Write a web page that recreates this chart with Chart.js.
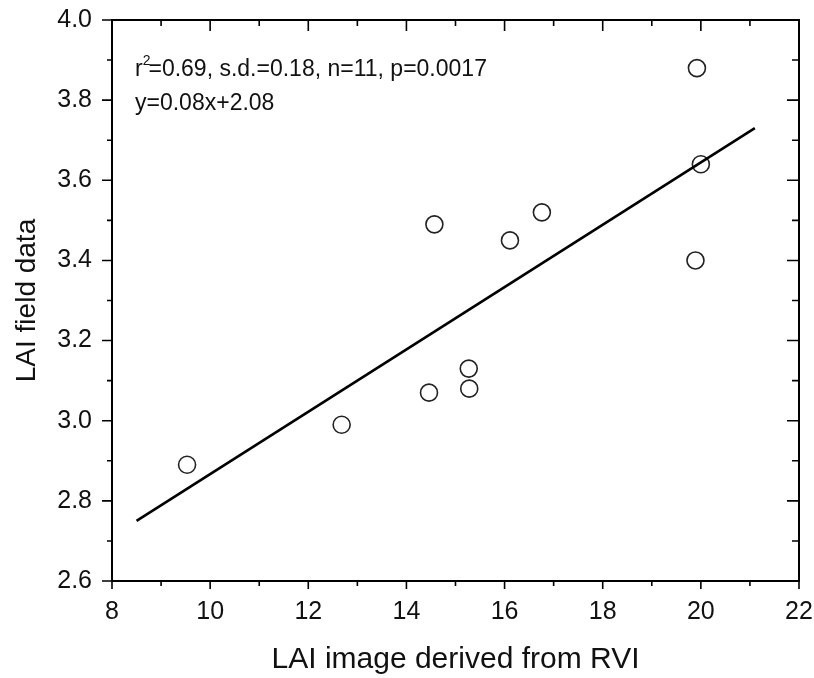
<!DOCTYPE html>
<html>
<head>
<meta charset="utf-8">
<script src="https://cdn.jsdelivr.net/npm/chart.js@4/dist/chart.umd.min.js"></script>
<style>
  html, body { margin: 0; padding: 0; background: #fff; }
  #wrap { width: 814px; height: 678px; }
</style>
</head>
<body>
<div id="wrap"><canvas id="chart"></canvas></div>
<script>
// LAI from image (RVI) vs LAI field data
const rviLai = [9.53, 12.68, 14.46, 14.57, 15.27, 15.28, 16.11, 16.76, 19.89, 19.92, 20.0]
const fieldLai = [2.89, 2.99, 3.07, 3.49, 3.13, 3.08, 3.45, 3.52, 3.40, 3.88, 3.64]
const fitX = [8.5, 21.1]
const fitY = [2.75, 3.73]
const xTicks = [8, 10, 12, 14, 16, 18, 20, 22]
const yTicks = [2.6, 2.8, 3.0, 3.2, 3.4, 3.6, 3.8, 4.0]
const statsText = '=0.69, s.d.=0.18, n=11, p=0.0017'
const eqText = 'y=0.08x+2.08'

const FONT = '"Liberation Sans", Arial, sans-serif'

// frame + origin style ticks (out on left/bottom, in on top/right)
const frame = {
    id: 'frame',
    afterDraw(chart) {
        const { ctx, chartArea: a, scales: { x, y } } = chart
        ctx.save()
        ctx.strokeStyle = '#000'
        ctx.lineWidth = 2
        ctx.strokeRect(a.left, a.top, a.right - a.left, a.bottom - a.top)
        ctx.lineWidth = 1.6
        ctx.beginPath()
        for (let v = 8; v <= 22; v++) {
            const px = x.getPixelForValue(v)
            const major = v % 2 === 0
            ctx.moveTo(px, a.bottom); ctx.lineTo(px, a.bottom + (major ? 8 : 5))
            ctx.moveTo(px, a.top); ctx.lineTo(px, a.top + (major ? 11 : 6))
        }
        for (let i = 0; i <= 14; i++) {
            const v = 2.6 + i * 0.1
            const py = y.getPixelForValue(v)
            const major = i % 2 === 0
            ctx.moveTo(a.left, py); ctx.lineTo(a.left - (major ? 10 : 5), py)
            ctx.moveTo(a.right, py); ctx.lineTo(a.right - (major ? 12 : 7), py)
        }
        ctx.stroke()

        // stats text
        ctx.fillStyle = '#111'
        ctx.textBaseline = 'alphabetic'
        ctx.font = '23px ' + FONT
        const tx = a.left + 23
        ctx.fillText('r', tx, 76)
        const rw = ctx.measureText('r').width
        ctx.font = '14px ' + FONT
        ctx.fillText('2', tx + rw, 65)
        const sw = ctx.measureText('2').width
        ctx.font = '23px ' + FONT
        ctx.fillText(statsText, tx + rw + sw - 2, 76)
        ctx.fillText(eqText, tx, 110)
        ctx.restore()
    }
}

new Chart(document.getElementById('chart'), {
    type: 'scatter',
    data: {
        datasets: [
            {
                type: 'line',
                data: fitX.map((v, i) => ({ x: v, y: fitY[i] })),
                borderColor: '#000',
                borderWidth: 2.6,
                pointRadius: 0,
                fill: false,
            },
            {
                data: rviLai.map((v, i) => ({ x: v, y: fieldLai[i] })),
                pointStyle: 'circle',
                pointRadius: 8.5,
                pointHoverRadius: 8.5,
                backgroundColor: 'rgba(255,255,255,0)',
                borderColor: '#222',
                borderWidth: 1.6,
            },
        ],
    },
    options: {
        responsive: true,
        maintainAspectRatio: false,
        animation: false,
        layout: { padding: { top: 20, right: 15, left: 0, bottom: 0 } },
        plugins: { legend: { display: false }, tooltip: { enabled: false } },
        scales: {
            x: {
                type: 'linear',
                min: 8,
                max: 22,
                afterFit: (s) => { s.height = 97; s.paddingLeft = 0; s.paddingRight = 0 },
                afterBuildTicks: (s) => { s.ticks = xTicks.map(v => ({ value: v })) },
                grid: { display: false },
                border: { display: false },
                ticks: {
                    color: '#111',
                    padding: 8,
                    font: { family: FONT, size: 25 },
                    callback: (v) => String(v),
                },
                title: {
                    display: true,
                    text: 'LAI image derived from RVI',
                    color: '#111',
                    font: { family: FONT, size: 30 },
                    padding: { top: 16, bottom: 0 },
                },
            },
            y: {
                type: 'linear',
                min: 2.6,
                max: 4.0,
                afterFit: (s) => { s.width = 112; s.paddingTop = 0; s.paddingBottom = 0 },
                afterBuildTicks: (s) => { s.ticks = yTicks.map(v => ({ value: v })) },
                grid: { display: false },
                border: { display: false },
                ticks: {
                    color: '#111',
                    padding: 12,
                    font: { family: FONT, size: 25 },
                    callback: (v) => v.toFixed(1),
                },
                title: {
                    display: true,
                    text: 'LAI field data',
                    color: '#111',
                    font: { family: FONT, size: 28 },
                    padding: { top: 10, bottom: 0 },
                },
            },
        },
    },
    plugins: [frame],
})
</script>
</body>
</html>
